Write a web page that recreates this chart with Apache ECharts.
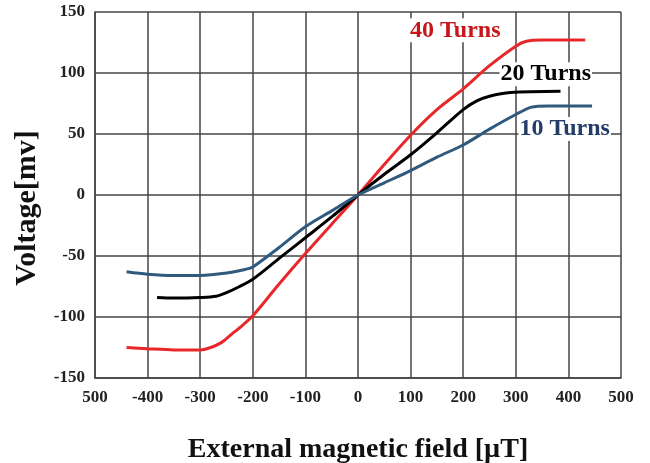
<!DOCTYPE html>
<html>
<head>
<meta charset="utf-8">
<title>Voltage vs field</title>
<style>
html,body { height:100%; width:100%; margin:0; padding:0; background:#fff; }
</style>
</head>
<body>
<div id="main" style="width:650px;height:463px;"></div>
<script src="https://cdn.jsdelivr.net/npm/echarts@6/dist/echarts.min.js"></script>
<script>
// field [uT], voltage [mV]
var turns40 = [[-440,-125],[-400,-126],[-350,-127],[-300,-127],[-280,-125],[-260,-121],[-240,-114],[-220,-107],[-200,-99],
  [-150,-73],[-100,-48],[-50,-24],[0,0],[50,25],[100,49],[150,70],[200,87],[250,106],[300,122],[320,126],[350,127],[432,127]];
var turns20 = [[-382,-84],[-350,-84.5],[-300,-84],[-270,-83],[-250,-80],[-225,-75],[-200,-69],[-150,-52],[-100,-35],
  [-50,-18],[0,0],[50,17],[100,33],[150,51],[200,70],[225,77],[250,81],[290,84],[385,85]];
var turns10 = [[-440,-63],[-400,-65],[-350,-66],[-300,-66],[-250,-64],[-215,-61],[-200,-59],[-150,-43],[-100,-26],
  [-50,-13],[0,0],[50,10],[100,20],[150,31],[200,41],[250,54],[300,66],[330,72],[360,73],[445,73]];
var seriesNames = ['40 Turns','20 Turns','10 Turns'];
var labelAt = [[185,135],[357,99],[393,54]];

var font = 'Liberation Serif';
var myChart = echarts.init(document.getElementById('main'));

function makeSeries(name, data, lineColor, textColor, pos) {
  return {
    name: name,
    type: 'line',
    data: data,
    smooth: 0.3,
    showSymbol: false,
    lineStyle: { color: lineColor, width: 3 },
    markPoint: {
      symbol: 'circle',
      symbolSize: 0,
      silent: true,
      data: [{ coord: pos, value: name }],
      label: { show: true, position: 'inside', formatter: name, color: textColor,
        fontFamily: font, fontWeight: 'bold', fontSize: 24,
        backgroundColor: '#fff', padding: [0, 1] }
    },
    z: 3
  };
}

var options = {
  animation: false,
  grid: { left: 95, right: 29, top: 12, bottom: 85, outerBoundsMode: 'none' },
  xAxis: {
    type: 'value', min: -500, max: 500, interval: 100,
    name: 'External magnetic field [µT]', nameLocation: 'middle', nameGap: 58,
    nameTextStyle: { fontFamily: font, fontWeight: 'bold', fontSize: 28, color: '#111' },
    axisLine: { show: true, onZero: false, lineStyle: { color: '#444', width: 1.5 } },
    axisTick: { show: false },
    splitLine: { show: true, lineStyle: { color: '#444', width: 1.5 } },
    axisLabel: { margin: 11, fontFamily: font, fontWeight: 'bold', fontSize: 17, color: '#222',
      formatter: function (v) { return v === -500 ? '500' : String(v); } }
  },
  yAxis: {
    type: 'value', min: -150, max: 150, interval: 50,
    name: 'Voltage[mv]', nameLocation: 'middle', nameGap: 53, nameRotate: 90,
    nameTextStyle: { fontFamily: font, fontWeight: 'bold', fontSize: 30, color: '#111', padding: [0, 26, 0, 0] },
    axisLine: { show: true, onZero: false, lineStyle: { color: '#444', width: 1.5 } },
    axisTick: { show: false },
    splitLine: { show: true, lineStyle: { color: '#444', width: 1.5 } },
    axisLabel: { margin: 10, fontFamily: font, fontWeight: 'bold', fontSize: 17, color: '#222' }
  },
  series: [
    makeSeries(seriesNames[0], turns40, '#e8272a', '#c8171c', labelAt[0]),
    makeSeries(seriesNames[1], turns20, '#000000', '#000000', labelAt[1]),
    makeSeries(seriesNames[2], turns10, '#2f5a7e', '#233c68', labelAt[2])
  ]
};
myChart.setOption(options);
</script>
</body>
</html>
